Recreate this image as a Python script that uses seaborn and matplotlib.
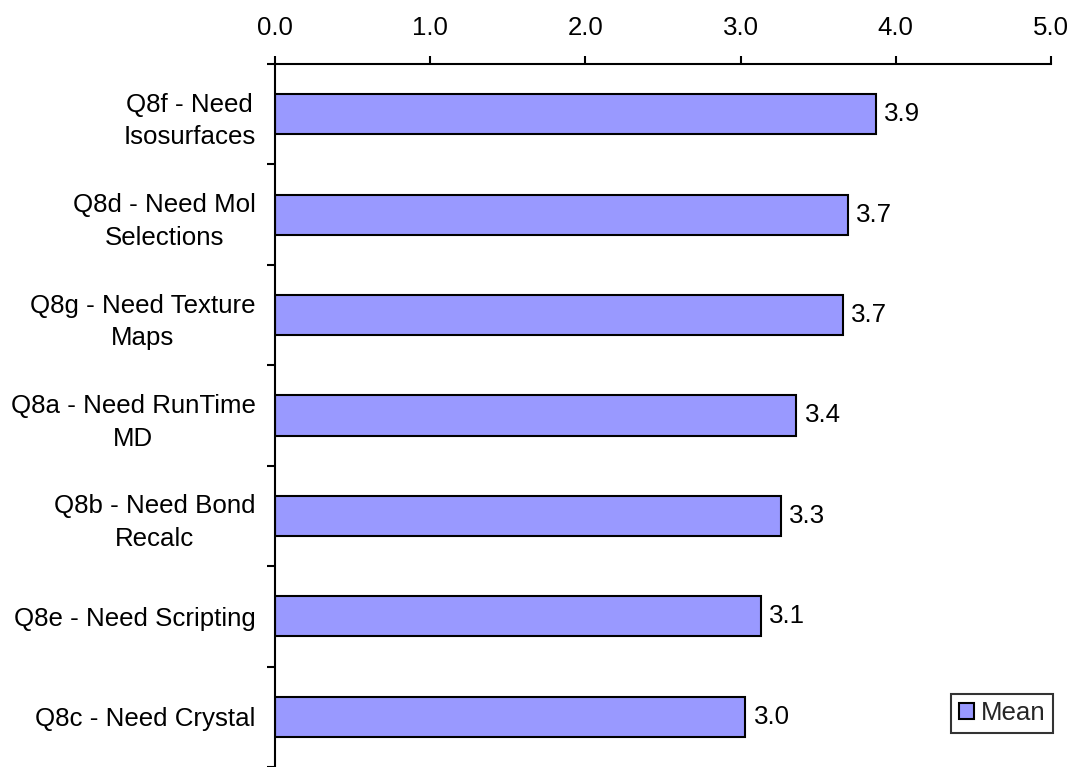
import matplotlib
matplotlib.use("Agg")
import matplotlib.pyplot as plt
import seaborn as sns
import pandas as pd

# Survey items (top to bottom) and their mean scores
questions = [
    "Q8f - Need\nIsosurfaces",
    "Q8d - Need Mol\nSelections",
    "Q8g - Need Texture\nMaps",
    "Q8a - Need RunTime\nMD",
    "Q8b - Need Bond\nRecalc",
    "Q8e - Need Scripting",
    "Q8c - Need Crystal",
]
means = [3.87, 3.69, 3.66, 3.36, 3.26, 3.13, 3.03]
x_ticks = [0.0, 1.0, 2.0, 3.0, 4.0, 5.0]
series_name = "Mean"

df = pd.DataFrame({"question": questions, "mean": means})

sns.set_theme(style="white")
plt.rcParams["font.family"] = ["Liberation Sans", "DejaVu Sans"]

FS = 18.6
BAR_COLOR = "#9999FF"

fig = plt.figure(figsize=(10.74, 7.67), dpi=100)
ax = fig.add_axes([275 / 1074, 0.0, 776 / 1074, 1 - 64 / 767])

sns.barplot(
    data=df, x="mean", y="question", orient="h", order=questions,
    color=BAR_COLOR, width=0.4, edgecolor="black", linewidth=1.5,
    saturation=1, label=series_name, ax=ax,
)

ax.set_xlim(0, 5)
ax.set_ylim(len(questions) - 0.5, -0.5)
ax.set_xlabel("")
ax.set_ylabel("")

# Value axis on top
ax.xaxis.tick_top()
ax.set_xticks(x_ticks)
ax.set_xticklabels([f"{v:.1f}" for v in x_ticks], fontsize=FS, color="black")
ax.tick_params(axis="x", which="major", direction="out", length=6, width=1.5,
               color="black", pad=11, top=True, bottom=False)

# Category axis: labels at centers, tick marks between categories
ax.set_yticks(range(len(questions)))
ax.set_yticks([i - 0.5 for i in range(len(questions) + 1)], minor=True)
ax.tick_params(axis="y", which="major", length=0, pad=14, labelsize=FS,
               labelcolor="black")
ax.tick_params(axis="y", which="minor", direction="out", length=6, width=1.5,
               color="black", left=True)
for lbl in ax.get_yticklabels():
    lbl.set_multialignment("center")
    lbl.set_linespacing(1.46)

for side in ["right", "bottom"]:
    ax.spines[side].set_visible(False)
for side in ["left", "top"]:
    ax.spines[side].set_visible(True)
    ax.spines[side].set_color("black")
    ax.spines[side].set_linewidth(1.5)

ax.bar_label(ax.containers[0], fmt="%.1f", padding=6, fontsize=FS, color="black")

leg = ax.legend(
    loc="lower right", bbox_to_anchor=(1053 / 1074, 1 - 733 / 767),
    bbox_transform=fig.transFigure, fontsize=FS, frameon=True, fancybox=False,
    handlelength=0.6, handleheight=0.6, handletextpad=0.25,
    borderpad=0.3, borderaxespad=0.0,
)
leg.get_frame().set_edgecolor("black")
leg.get_frame().set_linewidth(1.5)

fig.savefig("out.png", dpi=100)
